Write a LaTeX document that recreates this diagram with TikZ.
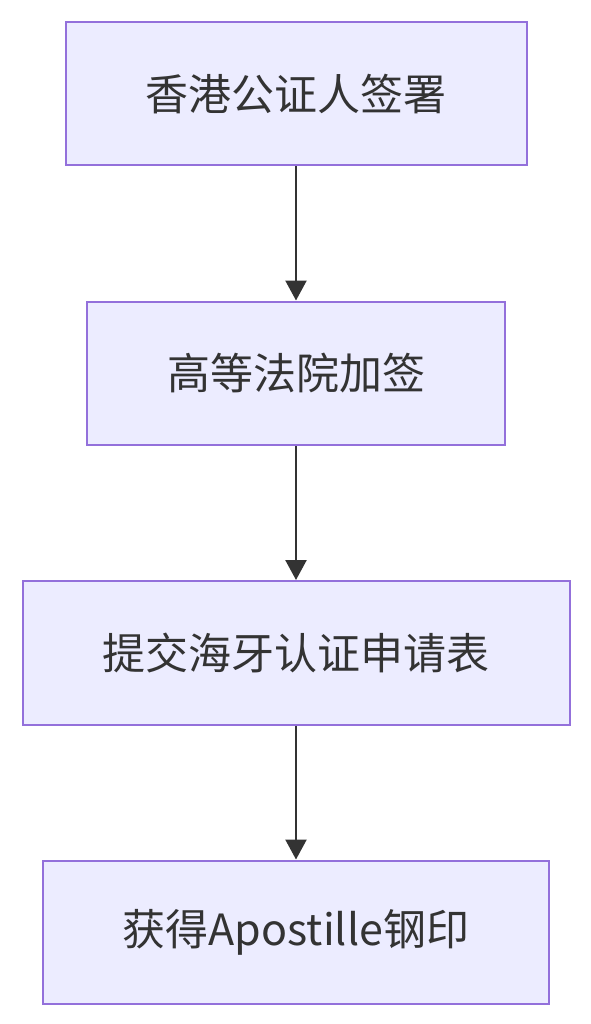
\documentclass[tikz,border=0pt]{standalone}
\usepackage{fontspec}
\setmainfont{Noto Sans CJK SC}
\usetikzlibrary{arrows.meta,positioning}

\definecolor{boxfill}{HTML}{ECECFF}
\definecolor{boxline}{HTML}{9370DB}
\definecolor{ink}{HTML}{333333}

\begin{document}
\begin{tikzpicture}[
  x=1pt, y=1pt,
  node distance=134pt,
  box/.style={rectangle, draw=boxline, line width=2pt, fill=boxfill, text=ink,
    minimum height=143.5pt, inner xsep=80pt, align=center, font=\fontsize{43}{50}\selectfont},
  arrow/.style={-{Triangle[length=20pt,width=21pt]}, draw=ink, line width=2.4pt}
]
\useasboundingbox (0,0) rectangle (590,-1024);

\node[box, below=21pt] (notary) at (296,0) {香港公证人签署};
\node[box, below=of notary] (court) {高等法院加签};
\node[box, below=of court] (apply) {提交海牙认证申请表};
\node[box, below=of apply] (stamp) {获得Apostille钢印};

\draw[arrow] (notary) -- (court);
\draw[arrow] (court) -- (apply);
\draw[arrow] (apply) -- (stamp);

\end{tikzpicture}
\end{document}
